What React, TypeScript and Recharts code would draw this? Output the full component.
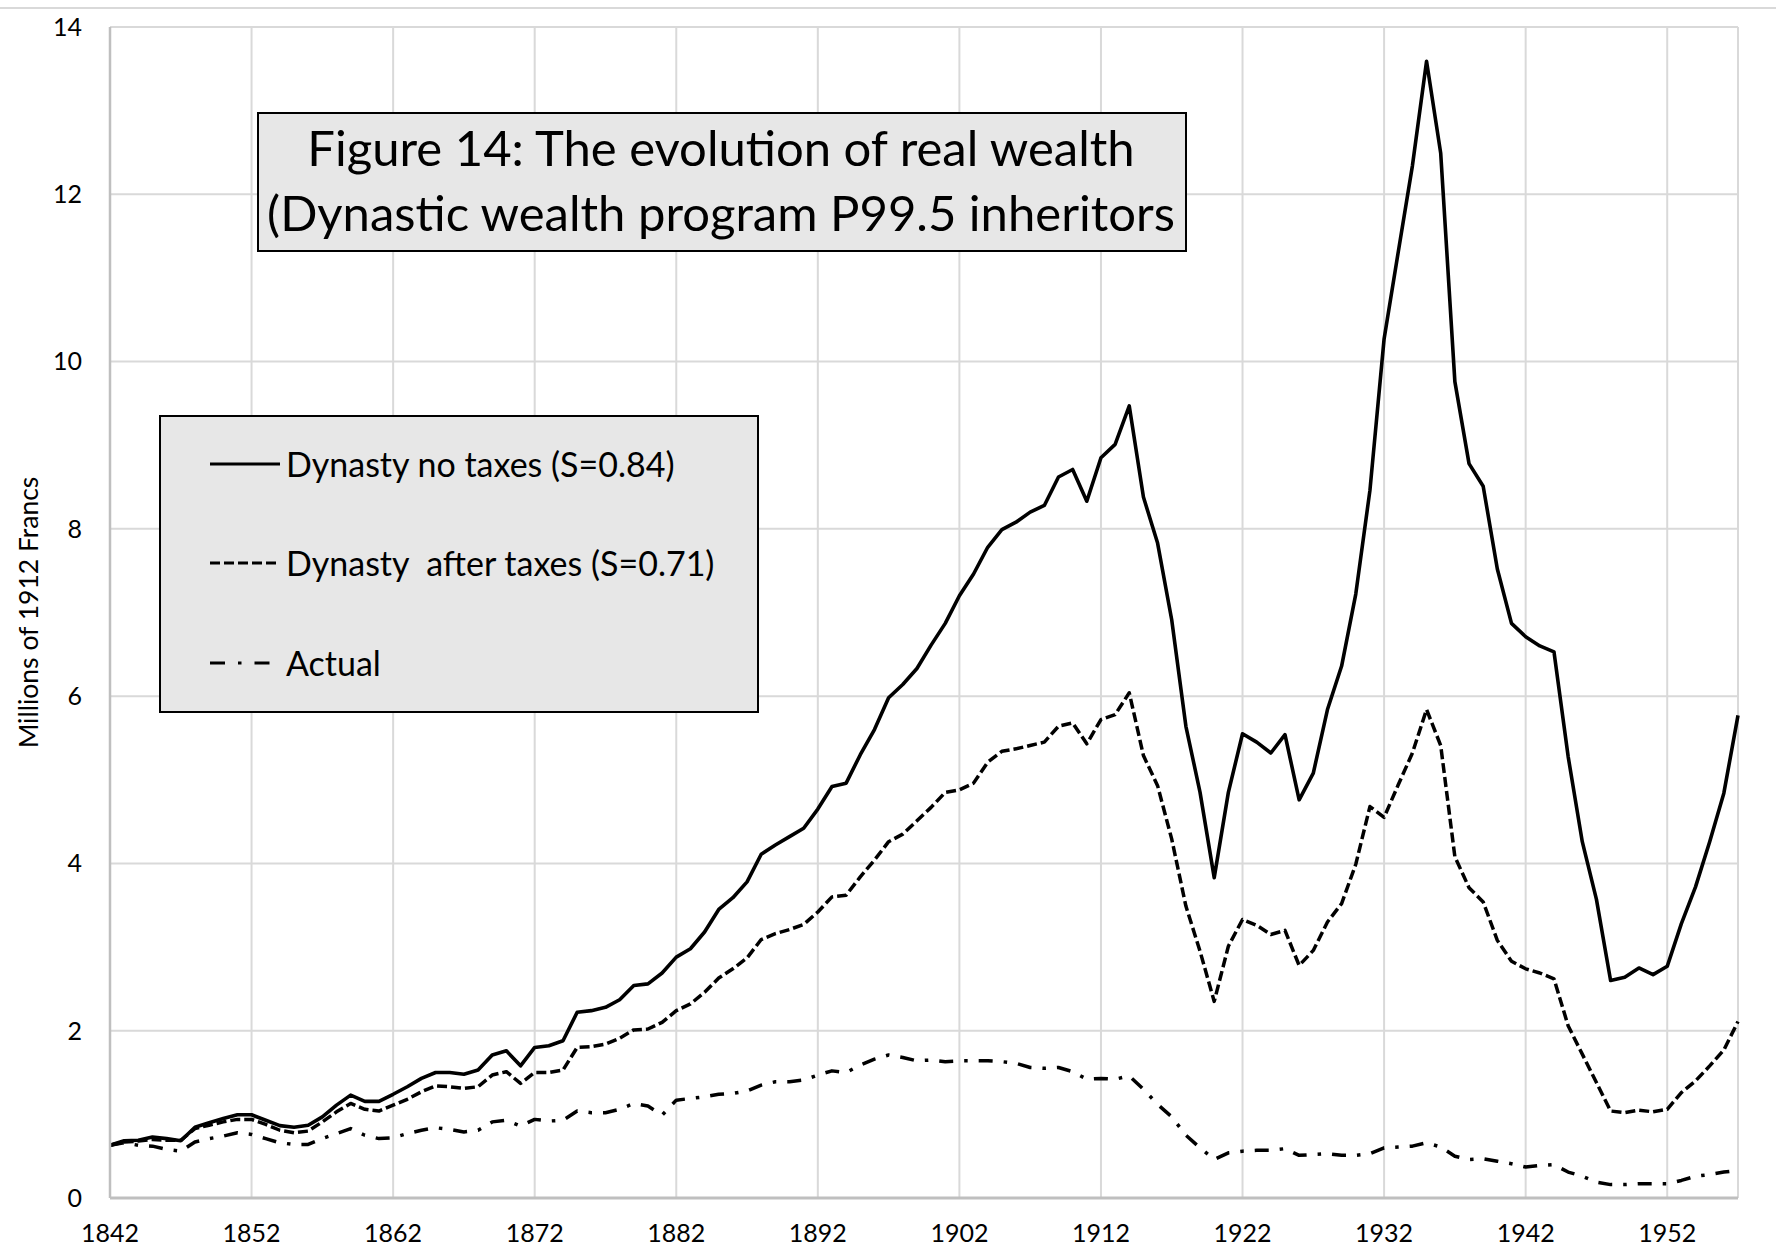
import React from 'react';
import { LineChart, Line, XAxis, YAxis, CartesianGrid, Legend, Customized } from 'recharts';

const years: number[] = Array.from({ length: 116 }, (_, i) => 1842 + i);
const xTicks: number[] = [1842, 1852, 1862, 1872, 1882, 1892, 1902, 1912, 1922, 1932, 1942, 1952];
const yTicks: number[] = [0, 2, 4, 6, 8, 10, 12, 14];

const noTaxes: number[] = [
  0.63, 0.685, 0.69, 0.73, 0.71, 0.685, 0.845, 0.9, 0.95, 0.995,
  0.995, 0.93, 0.865, 0.845, 0.87, 0.97, 1.11, 1.23, 1.155, 1.155,
  1.24, 1.33, 1.43, 1.5, 1.5, 1.48, 1.53, 1.71, 1.76, 1.58,
  1.8, 1.82, 1.88, 2.22, 2.24, 2.28, 2.37, 2.54, 2.56, 2.69,
  2.88, 2.98, 3.18, 3.45, 3.59, 3.78, 4.11, 4.22, 4.32, 4.42,
  4.65, 4.92, 4.96, 5.3, 5.6, 5.98, 6.14, 6.33, 6.61, 6.87,
  7.2, 7.46, 7.78, 7.99, 8.08, 8.2, 8.28, 8.62, 8.71, 8.33,
  8.85, 9.01, 9.47, 8.38, 7.83, 6.91, 5.64, 4.85, 3.83, 4.85,
  5.55, 5.45, 5.32, 5.54, 4.76, 5.08, 5.84, 6.36, 7.22, 8.46,
  10.27, 11.31, 12.34, 13.59, 12.49, 9.76, 8.78, 8.51, 7.52, 6.87,
  6.71, 6.6, 6.53, 5.28, 4.26, 3.57, 2.6, 2.64, 2.75, 2.67,
  2.77, 3.28, 3.72, 4.26, 4.84, 5.77,
];

const afterTaxes: number[] = [
  0.63, 0.67, 0.68, 0.7, 0.69, 0.69, 0.83, 0.87, 0.91, 0.94,
  0.94, 0.88, 0.81, 0.78, 0.8, 0.91, 1.03, 1.13, 1.06, 1.04,
  1.11, 1.18, 1.27, 1.34, 1.33, 1.31, 1.33, 1.47, 1.51, 1.37,
  1.5, 1.5, 1.53, 1.8, 1.81, 1.84, 1.91, 2.01, 2.02, 2.1,
  2.24, 2.32, 2.46, 2.63, 2.74, 2.87, 3.09, 3.16, 3.21, 3.27,
  3.42, 3.6, 3.62, 3.84, 4.04, 4.26, 4.35, 4.51, 4.67, 4.85,
  4.88, 4.96, 5.21, 5.34, 5.37, 5.41, 5.45, 5.64, 5.68, 5.43,
  5.72, 5.78, 6.04, 5.29, 4.93, 4.29, 3.49, 2.95, 2.35, 3.01,
  3.33, 3.26, 3.15, 3.2, 2.78, 2.96, 3.3, 3.52, 3.99, 4.68,
  4.55, 4.94, 5.32, 5.84, 5.41, 4.08, 3.71, 3.54, 3.08, 2.83,
  2.74, 2.69, 2.62, 2.06, 1.72, 1.38, 1.04, 1.02, 1.05, 1.03,
  1.06, 1.26, 1.4, 1.58, 1.77, 2.11,
];

const actual: number[] = [
  0.63, 0.66, 0.63, 0.62, 0.58, 0.56, 0.67, 0.71, 0.74, 0.78,
  0.76, 0.71, 0.66, 0.64, 0.64, 0.71, 0.77, 0.83, 0.75, 0.71,
  0.72, 0.77, 0.81, 0.84, 0.82, 0.79, 0.81, 0.91, 0.93, 0.86,
  0.94, 0.92, 0.93, 1.04, 1.02, 1.02, 1.06, 1.13, 1.1, 0.99,
  1.17, 1.19, 1.21, 1.24, 1.25, 1.28, 1.35, 1.39, 1.39, 1.41,
  1.47, 1.52, 1.5, 1.59, 1.66, 1.71, 1.68, 1.64, 1.65, 1.63,
  1.64, 1.64, 1.64, 1.63, 1.61, 1.56, 1.55, 1.56, 1.51, 1.42,
  1.43, 1.42, 1.46, 1.3, 1.12, 0.97, 0.75, 0.6, 0.46, 0.54,
  0.56, 0.57, 0.57, 0.59, 0.51, 0.52, 0.53, 0.51, 0.51, 0.53,
  0.6, 0.61, 0.62, 0.66, 0.61, 0.5, 0.46, 0.47, 0.44, 0.41,
  0.37, 0.39, 0.4, 0.31, 0.26, 0.19, 0.16, 0.16, 0.17, 0.17,
  0.17, 0.21, 0.26, 0.28, 0.31, 0.33,
];

const seriesNames = {
  noTax: 'Dynasty no taxes (S=0.84)',
  afterTax: 'Dynasty  after taxes (S=0.71)',
  actual: 'Actual',
};
const legendOrder: string[] = ['noTax', 'afterTax', 'actual'];
const titleLines: string[] = [
  'Figure 14: The evolution of real wealth',
  '(Dynastic wealth program P99.5 inheritors',
];
const yAxisTitle = 'Millions of 1912 Francs';

const data = years.map((year, i) => ({
  year,
  noTax: noTaxes[i],
  afterTax: afterTaxes[i],
  actual: actual[i],
}));

const FONT = 'Lato, "Noto Sans", sans-serif';
const dashes: Record<string, string | undefined> = {
  noTax: undefined,
  afterTax: '10 4',
  actual: '14 11 3.5 11',
};
const legendDashes: Record<string, string | undefined> = {
  noTax: undefined,
  afterTax: '10 4',
  actual: '15 13 3.5 13 15 200',
};

const TitleBox = () => (
  <g>
    <rect x={258} y={113} width={928} height={138} fill="#e7e7e7" stroke="#000" strokeWidth={2} />
    <text x={721} y={166} textAnchor="middle" fontFamily={FONT} fontSize={49} fill="#000">
      {titleLines[0]}
    </text>
    <text x={721} y={231} textAnchor="middle" fontFamily={FONT} fontSize={49} fill="#000">
      {titleLines[1]}
    </text>
  </g>
);

const rowCenters = [49, 148, 248];

const renderLegend = (props: any) => {
  const payload: any[] = [...(props.payload || [])].sort(
    (a: any, b: any) => legendOrder.indexOf(String(a.dataKey)) - legendOrder.indexOf(String(b.dataKey)),
  );
  return (
    <div
      style={{
        width: 600,
        height: 298,
        background: '#e7e7e7',
        border: '2px solid #000',
        boxSizing: 'border-box',
        position: 'relative',
        fontFamily: FONT,
        fontSize: 34,
        color: '#000',
      }}
    >
      {payload.map((entry: any, i: number) => (
        <div
          key={String(entry.dataKey)}
          style={{
            position: 'absolute',
            left: 48,
            top: rowCenters[i] - 2 - 20,
            height: 40,
            display: 'flex',
            alignItems: 'center',
            whiteSpace: 'pre',
          }}
        >
          <svg width={72} height={10} style={{ display: 'block' }}>
            <line
              x1={1}
              y1={5}
              x2={71}
              y2={5}
              stroke="#000"
              strokeWidth={3.2}
              strokeDasharray={legendDashes[String(entry.dataKey)]}
            />
          </svg>
          <span style={{ marginLeft: 5, lineHeight: '40px' }}>{entry.value}</span>
        </div>
      ))}
    </div>
  );
};

export default function App() {
  return (
    <div style={{ position: 'absolute', left: 0, top: 0, width: 1776, height: 1257, background: '#fff' }}>
      <div style={{ position: 'absolute', left: 0, top: 7, width: 1776, height: 2, background: '#d9d9d9' }} />
      <LineChart
        width={1776}
        height={1257}
        data={data}
        margin={{ top: 27, right: 38, bottom: 0, left: 0 }}
      >
        <CartesianGrid stroke="#d9d9d9" strokeWidth={2} vertical horizontal />
        <XAxis
          dataKey="year"
          type="category"
          ticks={xTicks}
          interval={0}
          height={59}
          tickLine={false}
          tickSize={6}
          tickMargin={20}
          axisLine={{ stroke: '#bfbfbf', strokeWidth: 3 }}
          tick={{ fill: '#000', fontSize: 25, fontFamily: FONT }}
        />
        <YAxis
          type="number"
          domain={[0, 14]}
          ticks={yTicks}
          width={110}
          tickLine={false}
          tickSize={6}
          tickMargin={22}
          axisLine={{ stroke: '#bfbfbf', strokeWidth: 2.5 }}
          tick={{ fill: '#000', fontSize: 25, fontFamily: FONT }}
          label={{
            value: yAxisTitle,
            angle: -90,
            position: 'center',
            dx: -26,
            fill: '#000',
            fontSize: 26.5,
            fontFamily: FONT,
          }}
        />
        <Customized component={TitleBox} />
        <Legend
          layout="vertical"
          align="center"
          verticalAlign="middle"
          content={renderLegend}
          wrapperStyle={{ left: 159, top: 415, width: 600, height: 298 }}
        />
        <Line
          type="linear"
          dataKey="noTax"
          name={seriesNames.noTax}
          stroke="#000"
          strokeWidth={3.6}
          strokeLinejoin="round"
          dot={false}
          activeDot={false}
          isAnimationActive={false}
        />
        <Line
          type="linear"
          dataKey="afterTax"
          name={seriesNames.afterTax}
          stroke="#000"
          strokeWidth={3.5}
          strokeDasharray={dashes.afterTax}
          strokeLinejoin="round"
          dot={false}
          activeDot={false}
          isAnimationActive={false}
        />
        <Line
          type="linear"
          dataKey="actual"
          name={seriesNames.actual}
          stroke="#000"
          strokeWidth={3.5}
          strokeDasharray={dashes.actual}
          strokeLinejoin="round"
          dot={false}
          activeDot={false}
          isAnimationActive={false}
        />
      </LineChart>
    </div>
  );
}
